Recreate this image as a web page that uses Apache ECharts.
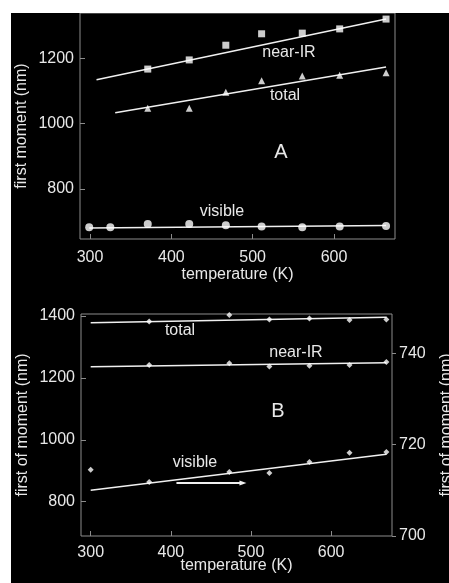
<!DOCTYPE html>
<html><head><meta charset="utf-8">
<script src="https://cdn.jsdelivr.net/npm/echarts@6/dist/echarts.min.js"></script>
<style>html,body{margin:0;padding:0;background:#fff}#c{width:449px;height:583px}</style>
</head><body><div id="c"></div>
<script>
// ---- Panel A data ----
const tempA_vis = [299, 325, 371, 422, 467, 511, 561, 607, 664];
const visibleA = [683, 683, 693, 693, 689, 685, 683, 685, 687];
const tempA = [371, 422, 467, 511, 561, 607, 664];
const nearIRA = [1167, 1195, 1240, 1275, 1277, 1290, 1320];
const totalA = [1047, 1047, 1096, 1131, 1146, 1148, 1156];
const nearIRFitA = [[308, 1134], [664, 1320]];
const totalFitA = [[331, 1033], [664, 1173]];
const visibleFitA = [[299, 681], [664, 688]];
const xTicksA = [300, 400, 500, 600];
const yTicksA = [800, 1000, 1200];

// ---- Panel B data ----
const tempB = [373, 473, 523, 573, 623, 669];
const totalB = [1382, 1403, 1389, 1392, 1387, 1389];
const nearIRB = [1242, 1247, 1237, 1239, 1242, 1251];
const tempB_vis = [300, 373, 473, 523, 573, 623, 669];
const visibleB = [714.5, 711.8, 714.0, 713.8, 716.2, 718.2, 718.4];
const totalFitB = [[300, 1378], [669, 1396]];
const nearIRFitB = [[300, 1236], [669, 1249]];
const visibleFitB = [[300, 710], [669, 717.9]];
const arrowB = [[407, 711.6], [490, 711.6]];
const xTicksB = [300, 400, 500, 600];
const yTicksB = [800, 1000, 1200, 1400];
const yTicksBRight = [700, 720, 740];

const FONT = 'Liberation Sans, Arial, sans-serif';
const TXT = '#e8e8e8';
const GRAY = '#8c8c8c';
const zip = (xs, ys) => xs.map((x, i) => [x, ys[i]]);
const plain = v => String(v);

function xAxis(grid, min, max, ticks, gap, margin) {
  return {
    type: 'value', gridIndex: grid, min, max,
    splitLine: {show: false}, axisLine: {show: false},
    axisTick: {show: true, inside: true, length: 5, lineStyle: {color: GRAY}, customValues: ticks},
    axisLabel: {color: TXT, fontSize: 16, fontFamily: FONT, margin, customValues: ticks, formatter: plain},
    name: 'temperature (K)', nameLocation: 'middle', nameGap: gap, nameMoveOverlap: false,
    nameTextStyle: {color: TXT, fontSize: 16, fontFamily: FONT, align: 'center', verticalAlign: 'middle'}
  };
}
function yAxis(grid, min, max, ticks, name, gap, pos, inside) {
  return {
    type: 'value', gridIndex: grid, min, max, position: pos,
    splitLine: {show: false}, axisLine: {show: false},
    axisTick: {show: true, inside: inside, length: inside ? 5 : 4, lineStyle: {color: GRAY}, customValues: ticks},
    axisLabel: {color: TXT, fontSize: 16, fontFamily: FONT, margin: inside ? 6 : 7, customValues: ticks, formatter: plain},
    name, nameLocation: 'middle', nameGap: gap, nameRotate: 90, nameMoveOverlap: false,
    nameTextStyle: {color: TXT, fontSize: 16, fontFamily: FONT, align: 'center', verticalAlign: 'middle'}
  };
}
function fit(xi, yi, data) {
  return {type: 'line', xAxisIndex: xi, yAxisIndex: yi, data, showSymbol: false, symbol: 'none',
    lineStyle: {color: '#f0f0f0', width: 1.5}, z: 2};
}
function pts(xi, yi, data, symbol, size) {
  return {type: 'scatter', xAxisIndex: xi, yAxisIndex: yi, data, symbol, symbolSize: size,
    itemStyle: {color: '#ffffff'}, z: 3};
}
function label(text, x, y, size) {
  return {type: 'text', x, y, style: {text, fill: TXT, font: (size || 16) + 'px ' + FONT, align: 'center', verticalAlign: 'middle'}};
}

const chart = echarts.init(document.getElementById('c'), null, {renderer: 'canvas'});
chart.setOption({
  animation: false,
  backgroundColor: '#000',
  grid: [
    {left: 80, top: 13, width: 315, height: 226, show: true, borderColor: GRAY, borderWidth: 1, backgroundColor: 'transparent', outerBoundsMode: 'none', containLabel: false},
    {left: 81, top: 314, width: 311, height: 222, show: true, borderColor: GRAY, borderWidth: 1, backgroundColor: 'transparent', outerBoundsMode: 'none', containLabel: false}
  ],
  xAxis: [xAxis(0, 287.7, 675, xTicksA, 36, 11), xAxis(1, 287.9, 676, xTicksB, 30, 9)],
  yAxis: [
    yAxis(0, 647, 1338.6, yTicksA, 'first moment (nm)', 58, 'left', true),
    yAxis(1, 689, 1406.5, yTicksB, 'first of moment (nm)', 58, 'left', true),
    yAxis(1, 700, 748.6, yTicksBRight, 'first of moment (nm)', 55, 'right', false)
  ],
  series: [
    fit(0, 0, nearIRFitA), fit(0, 0, totalFitA), fit(0, 0, visibleFitA),
    pts(0, 0, zip(tempA, nearIRA), 'rect', 7),
    pts(0, 0, zip(tempA, totalA), 'triangle', 7),
    pts(0, 0, zip(tempA_vis, visibleA), 'circle', 8),
    fit(1, 1, totalFitB), fit(1, 1, nearIRFitB), fit(1, 2, visibleFitB),
    pts(1, 1, zip(tempB, totalB), 'diamond', 6),
    pts(1, 1, zip(tempB, nearIRB), 'diamond', 6),
    pts(1, 2, zip(tempB_vis, visibleB), 'diamond', 6),
    {type: 'line', xAxisIndex: 1, yAxisIndex: 2,
      data: arrowB.map((p, i) => i === arrowB.length - 1
        ? {value: p, symbol: 'triangle', symbolSize: [5, 7], symbolRotate: -90}
        : {value: p, symbol: 'none'}),
      showAllSymbol: true,
      lineStyle: {color: '#f0f0f0', width: 2}, itemStyle: {color: '#f0f0f0'}, z: 2}
  ],
  graphic: [
    {type: 'rect', shape: {x: 0, y: 0, width: 449, height: 13}, style: {fill: '#fff'}, z: 100},
    {type: 'rect', shape: {x: 0, y: 0, width: 11, height: 583}, style: {fill: '#fff'}, z: 100},
    label('near-IR', 289, 53), label('total', 285, 96), label('A', 281, 152, 20), label('visible', 222, 212),
    label('total', 180, 331), label('near-IR', 296, 353), label('B', 278, 411, 20), label('visible', 195, 463)
  ]
});
</script></body></html>
